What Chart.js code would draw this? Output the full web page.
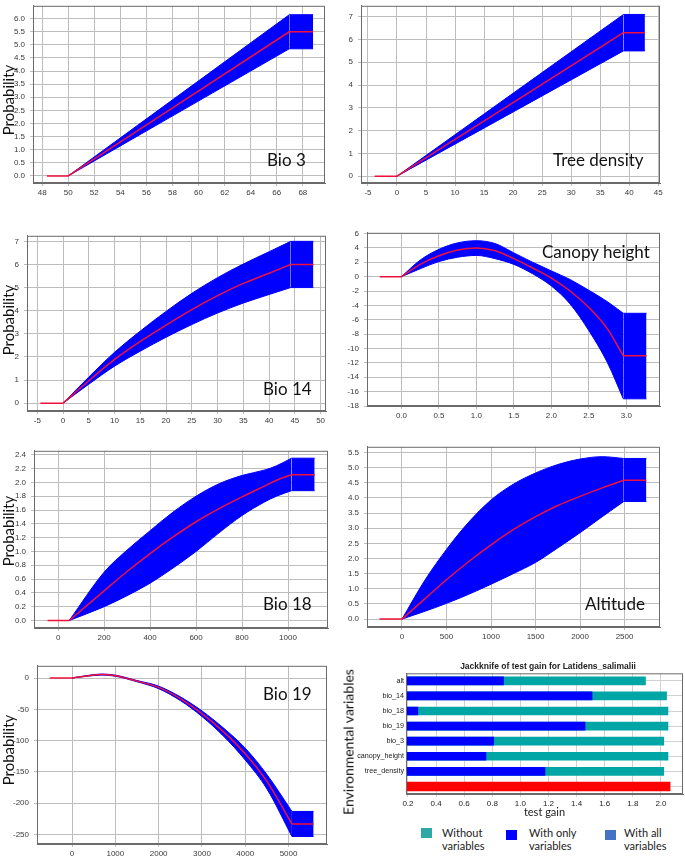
<!DOCTYPE html>
<html>
<head>
<meta charset="utf-8">
<title>Response curves and jackknife</title>
<script src="https://cdn.jsdelivr.net/npm/chart.js@4.4.1/dist/chart.umd.min.js"></script>
<style>
  body { margin: 0; background: #fff; }
  #page { position: relative; width: 685px; height: 856px; overflow: hidden; background: #fff; }
  canvas { position: absolute; }
  .txt { position: absolute; z-index: 2; font-family: Lato, "Open Sans", sans-serif; font-size: 17px; color: #111; white-space: nowrap; transform: translateY(-50%); }
  .ylab { position: absolute; z-index: 2; font-family: Lato, "Open Sans", sans-serif; font-size: 15px; color: #111; white-space: nowrap; transform: translate(-50%, -50%) rotate(-90deg); }
  .key { position: absolute; width: 11px; height: 10px; }
  .keytxt { position: absolute; z-index: 2; font-family: Lato, "Open Sans", sans-serif; font-size: 11px; line-height: 13px; color: #222; }
  .jtitle { position: absolute; z-index: 2; font-family: "Liberation Sans", Arial, sans-serif; font-weight: bold; font-size: 8.5px; color: #222; white-space: nowrap; transform: translate(-50%, -50%); }
</style>
</head>
<body>
<div id="page">
  <div class="ylab" style="left:8px;top:100px">Probability</div>
  <div class="ylab" style="left:8px;top:320px">Probability</div>
  <div class="ylab" style="left:8px;top:531px">Probability</div>
  <div class="ylab" style="left:8px;top:750px">Probability</div>
  <div class="ylab" style="left:348px;top:742px;font-size:14px">Environmental variables</div>

  <div class="txt" style="left:267px;top:159px">Bio 3</div>
  <div class="txt" style="left:553px;top:159px">Tree density</div>
  <div class="txt" style="left:263px;top:388px">Bio 14</div>
  <div class="txt" style="left:542px;top:251px">Canopy height</div>
  <div class="txt" style="left:263px;top:603px">Bio 18</div>
  <div class="txt" style="left:585px;top:603px">Altitude</div>
  <div class="txt" style="left:263px;top:693px">Bio 19</div>

  <div class="jtitle" style="left:548px;top:666px">Jackknife of test gain for Latidens_salimalii</div>

  <div class="key" style="left:421px;top:828px;background:#2ea9a5"></div>
  <div class="keytxt" style="left:442px;top:826px">Without<br>variables</div>
  <div class="key" style="left:506px;top:830px;background:#0000ff"></div>
  <div class="keytxt" style="left:529px;top:826px">With only<br>variables</div>
  <div class="key" style="left:605px;top:830px;background:#4472c4"></div>
  <div class="keytxt" style="left:624px;top:826px">With all<br>variables</div>
</div>
<script>
// response curves: x values, fitted response, upper / lower band
// (index 1 = where the curve leaves zero, second to last = where it goes flat)
const bio3X = [48.36, 50, 66.96, 68.79];
const bio3Fit = [0, 0, 5.5, 5.5];
const bio3Upper = [0, 0, 6.15, 6.15];
const bio3Lower = [0, 0, 4.85, 4.85];

const treeX = [-3.85, 0, 39, 42.7];
const treeFit = [0, 0, 6.3, 6.3];
const treeUpper = [0, 0, 7.1, 7.1];
const treeLower = [0, 0, 5.5, 5.5];

const bio14X = [-4.4, 0, 5, 10, 15, 20, 25, 30, 35, 40, 44.2, 48.6];
const bio14Fit = [0, 0, 0.97, 1.89, 2.67, 3.38, 4.05, 4.65, 5.18, 5.62, 6.0, 6.0];
const bio14Upper = [0, 0, 1.13, 2.2, 3.12, 3.97, 4.75, 5.43, 6.02, 6.55, 7.0, 7.0];
const bio14Lower = [0, 0, 0.82, 1.6, 2.25, 2.85, 3.4, 3.9, 4.33, 4.7, 5.0, 5.0];

const canopyX = [-0.29, 0, 0.25, 0.5, 0.75, 1.0, 1.25, 1.5, 1.75, 2.0, 2.25, 2.5, 2.75, 2.96, 3.27];
const canopyFit = [0, 0, 1.7, 2.9, 3.7, 4.0, 3.6, 2.5, 1.2, -0.2, -2.0, -4.3, -7.3, -11, -11];
const canopyUpper = [0, 0, 2.3, 3.8, 4.7, 5.0, 4.6, 3.3, 2.0, 0.8, -0.4, -1.9, -3.5, -5.1, -5.1];
const canopyLower = [0, 0, 1.1, 2.1, 2.7, 2.95, 2.5, 1.7, 0.4, -1.3, -3.8, -7.5, -12, -17, -17];

const bio18X = [-46, 48, 200, 300, 400, 500, 600, 700, 800, 900, 950, 1015, 1116];
const bio18Fit = [0, 0, 0.43, 0.71, 0.97, 1.21, 1.43, 1.62, 1.79, 1.95, 2.03, 2.11, 2.11];
const bio18Upper = [0, 0, 0.7, 1.02, 1.3, 1.57, 1.8, 1.98, 2.1, 2.18, 2.24, 2.35, 2.35];
const bio18Lower = [0, 0, 0.2, 0.36, 0.54, 0.76, 1.0, 1.27, 1.52, 1.72, 1.8, 1.88, 1.88];

const altX = [-252, 0, 250, 500, 750, 1000, 1250, 1500, 1750, 2000, 2250, 2491, 2745];
const altFit = [0, 0, 0.65, 1.3, 1.9, 2.45, 2.95, 3.38, 3.75, 4.05, 4.33, 4.58, 4.58];
const altUpper = [0, 0, 1.25, 2.3, 3.2, 3.93, 4.45, 4.82, 5.1, 5.28, 5.36, 5.3, 5.3];
const altLower = [0, 0, 0.25, 0.52, 0.82, 1.15, 1.5, 1.87, 2.35, 2.85, 3.38, 3.88, 3.88];

const bio19X = [-516, 0, 300, 700, 1000, 1500, 2000, 2500, 3000, 3500, 4000, 4500, 5078, 5579];
const bio19Fit = [0, 0, 3, 5.5, 3.7, -5, -15, -33, -57, -86, -121, -165, -233, -233];
const bio19Upper = [0, 0, 3.5, 6.3, 4.6, -4, -13, -30, -52.5, -80, -112, -154, -213, -213];
const bio19Lower = [0, 0, 2.5, 4.7, 2.8, -6, -17, -36, -61.5, -93, -131, -177, -253, -253];

// jackknife of test gain
const variables = ["alt", "bio_14", "bio_18", "bio_19", "bio_3", "canopy_height", "tree_density", ""];
const withoutVar = [1.89, 2.04, 2.05, 2.05, 2.02, 2.05, 2.02, null];
const withOnlyVar = [0.88, 1.51, 0.27, 1.46, 0.81, 0.755, 1.175, null];
const withAllVars = [null, null, null, null, null, null, null, 2.065];

const page = document.getElementById("page");
const tickFont = { family: "Liberation Sans, Arial, sans-serif", size: 8 };

const framePlugin = {
  id: "frame",
  afterDatasetsDraw(chart) {
    const a = chart.chartArea, ctx = chart.ctx;
    ctx.save();
    ctx.strokeStyle = "#6b6b6b";
    ctx.lineWidth = 1;
    ctx.strokeRect(a.left + 0.5, a.top + 0.5, a.right - a.left - 1, a.bottom - a.top - 1);
    ctx.restore();
  },
};

function pts(xs, ys, from, to) {
  const out = [];
  for (let i = from; i <= to; i++) out.push({ x: xs[i], y: ys[i] });
  return out;
}

// ticks at every multiple of step inside the axis range
function stepTicks(step) {
  return (s) => {
    const list = [];
    for (let v = Math.ceil(s.min / step) * step; v <= s.max + 1e-9; v += step) {
      list.push({ value: Math.round(v * 1000) / 1000 });
    }
    s.ticks = list;
  };
}

function makeCanvas(left, top, w, h) {
  const cv = document.createElement("canvas");
  cv.width = w;
  cv.height = h;
  cv.style.left = left + "px";
  cv.style.top = top + "px";
  page.appendChild(cv);
  return cv;
}

function curveChart(area, xs, fit, upper, lower, xa, ya) {
  const padL = 34, padT = 7, padR = 8, padB = 16;
  const w = area.r - area.l + padL + padR;
  const h = area.b - area.t + padT + padB;
  const cv = makeCanvas(area.l - padL, area.t - padT, w, h);
  const n = xs.length - 1, k = n - 1;
  const red = { borderColor: "#f0103c", borderWidth: 1.5, pointRadius: 0, fill: false };
  const blue = { borderColor: "#0000ff", backgroundColor: "#0000ff", borderWidth: 1, pointRadius: 0 };
  new Chart(cv, {
    type: "line",
    data: {
      datasets: [
        { ...red, data: pts(xs, fit, 0, 1) },
        { ...red, data: pts(xs, fit, 1, k), cubicInterpolationMode: "monotone" },
        { ...red, data: pts(xs, fit, k, n) },
        { ...blue, data: pts(xs, upper, 1, k), cubicInterpolationMode: "monotone", fill: "+1" },
        { ...blue, data: pts(xs, lower, 1, k), cubicInterpolationMode: "monotone", fill: false },
        { ...blue, data: pts(xs, upper, k, n), fill: "+1" },
        { ...blue, data: pts(xs, lower, k, n), fill: false },
      ],
    },
    options: {
      responsive: false,
      animation: false,
      events: [],
      layout: { autoPadding: false, padding: { top: padT, right: padR, left: 0, bottom: 0 } },
      plugins: { legend: { display: false }, tooltip: { enabled: false } },
      scales: {
        x: {
          type: "linear",
          min: xa.min, max: xa.max,
          afterFit: (s) => { s.height = padB; },
          afterBuildTicks: stepTicks(xa.step),
          grid: { color: "#bdbdbd", tickLength: 3 },
          border: { color: "#6b6b6b" },
          ticks: {
            autoSkip: false, maxRotation: 0,
            padding: 2, color: "#3a3a3a", font: tickFont,
            callback: (v) => Number(v).toFixed(xa.dec),
          },
        },
        y: {
          min: ya.min, max: ya.max,
          afterFit: (s) => { s.width = padL; },
          afterBuildTicks: stepTicks(ya.step),
          grid: { color: "#bdbdbd", tickLength: 3 },
          border: { color: "#6b6b6b" },
          ticks: {
            autoSkip: false,
            padding: 5, color: "#3a3a3a", font: tickFont,
            callback: (v) => Number(v).toFixed(ya.dec),
          },
        },
      },
    },
    plugins: [framePlugin],
  });
}

curveChart({ l: 33, t: 3, r: 325, b: 183 }, bio3X, bio3Fit, bio3Upper, bio3Lower,
  { min: 47.3, max: 69.7, step: 2, dec: 0 }, { min: -0.27, max: 6.49, step: 0.5, dec: 1 });
curveChart({ l: 361, t: 3, r: 660, b: 183 }, treeX, treeFit, treeUpper, treeLower,
  { min: -6.2, max: 45.3, step: 5, dec: 0 }, { min: -0.3, max: 7.48, step: 1, dec: 0 });
curveChart({ l: 27, t: 233, r: 326, b: 411 }, bio14X, bio14Fit, bio14Upper, bio14Lower,
  { min: -7.0, max: 51.05, step: 5, dec: 0 }, { min: -0.34, max: 7.24, step: 1, dec: 0 });
curveChart({ l: 367, t: 230, r: 660, b: 406 }, canopyX, canopyFit, canopyUpper, canopyLower,
  { min: -0.46, max: 3.45, step: 0.5, dec: 1 }, { min: -18, max: 6.1, step: 2, dec: 0 });
curveChart({ l: 34, t: 448, r: 328, b: 628 }, bio18X, bio18Fit, bio18Upper, bio18Lower,
  { min: -105, max: 1174, step: 200, dec: 0 }, { min: -0.108, max: 2.457, step: 0.2, dec: 1 });
curveChart({ l: 367, t: 444, r: 660, b: 627 }, altX, altFit, altUpper, altLower,
  { min: -393, max: 2898, step: 500, dec: 0 }, { min: -0.26, max: 5.685, step: 0.5, dec: 1 });
curveChart({ l: 37, t: 663, r: 327, b: 844 }, bio19X, bio19Fit, bio19Upper, bio19Lower,
  { min: -810, max: 5888, step: 1000, dec: 0 }, { min: -265, max: 19.5, step: 50, dec: 0 });

// jackknife bars
(function () {
  const area = { l: 406, t: 673, r: 683, b: 794 };
  const left = 341, top = 667, padR = 685 - area.r, padB = 26;
  const padL = area.l - left, padT = area.t - top;
  const cv = makeCanvas(left, top, 685 - left, area.b + padB - top);
  new Chart(cv, {
    type: "bar",
    data: {
      labels: variables,
      datasets: [
        { label: "With only variable", data: withOnlyVar, backgroundColor: "#0000ff", grouped: false, barThickness: 8 },
        { label: "Without variable", data: withoutVar, backgroundColor: "#00a6a6", grouped: false, barThickness: 8 },
        { label: "With all variables", data: withAllVars, backgroundColor: "#ff0000", grouped: false, barThickness: 9 },
      ],
    },
    options: {
      indexAxis: "y",
      responsive: false,
      animation: false,
      events: [],
      layout: { autoPadding: false, padding: { top: padT, right: padR, left: 0, bottom: 0 } },
      plugins: { legend: { display: false }, tooltip: { enabled: false } },
      scales: {
        x: {
          min: 0.186, max: 2.157,
          afterFit: (s) => { s.height = padB; },
          afterBuildTicks: stepTicks(0.2),
          grid: { color: "#d2d2d2", tickLength: 3 },
          border: { color: "#6b6b6b" },
          ticks: {
            autoSkip: false, maxRotation: 0,
            padding: 2, color: "#222", font: tickFont,
            callback: (v) => Number(v).toFixed(1),
          },
          title: {
            display: true, text: "test gain", color: "#222",
            font: { family: "Lato, Open Sans, sans-serif", size: 11 },
            padding: { top: 0, bottom: 1 },
          },
        },
        y: {
          afterFit: (s) => { s.width = padL; },
          grid: { color: "#d2d2d2", offset: false, drawTicks: false },
          border: { color: "#6b6b6b" },
          ticks: { padding: 2, color: "#222", font: { family: "Liberation Sans, Arial, sans-serif", size: 7.2 }, autoSkip: false },
        },
      },
    },
    plugins: [framePlugin],
  });
})();
</script>
</body>
</html>
